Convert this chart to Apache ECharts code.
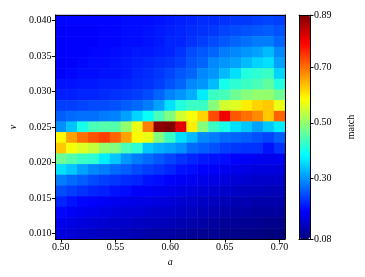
<!DOCTYPE html>
<html><head><meta charset="utf-8">
<script src="https://cdn.jsdelivr.net/npm/echarts@6/dist/echarts.min.js"></script>
<style>html,body{margin:0;padding:0;background:#fff}#c{width:365px;height:277px}</style>
</head><body><div id="c"></div>
<script>
// a (x) values, columns
const aValues = [0.50,0.51,0.52,0.53,0.54,0.55,0.56,0.57,0.58,0.59,0.60,0.61,0.62,0.63,0.64,0.65,0.66,0.67,0.68,0.69,0.70];
// nu (y) values, rows listed from top (0.040) to bottom (0.010)
const nuValues = [0.0400,0.0385,0.0370,0.0355,0.0340,0.0325,0.0310,0.0295,0.0280,0.0265,0.0250,0.0235,0.0220,0.0205,0.0190,0.0175,0.0160,0.0145,0.0130,0.0115,0.0100];
// match values, one row per nu value (same order as nuValues), one entry per a value
const matchRows = [
 [0.185,0.185,0.185,0.185,0.185,0.185,0.19,0.19,0.19,0.195,0.20,0.205,0.21,0.215,0.215,0.22,0.225,0.225,0.23,0.235,0.23],
 [0.18,0.18,0.18,0.18,0.185,0.185,0.19,0.19,0.195,0.20,0.205,0.21,0.215,0.22,0.225,0.235,0.24,0.245,0.25,0.255,0.245],
 [0.18,0.18,0.18,0.18,0.185,0.185,0.19,0.19,0.195,0.20,0.21,0.21,0.22,0.23,0.24,0.25,0.26,0.27,0.28,0.28,0.26],
 [0.18,0.18,0.18,0.185,0.185,0.19,0.195,0.20,0.20,0.205,0.21,0.22,0.24,0.25,0.26,0.28,0.29,0.30,0.31,0.33,0.29],
 [0.18,0.18,0.185,0.19,0.19,0.195,0.20,0.205,0.21,0.215,0.22,0.23,0.25,0.26,0.29,0.30,0.31,0.33,0.35,0.36,0.31],
 [0.18,0.185,0.19,0.19,0.195,0.195,0.20,0.21,0.215,0.225,0.235,0.25,0.26,0.29,0.30,0.33,0.36,0.41,0.42,0.43,0.35],
 [0.195,0.195,0.20,0.20,0.205,0.205,0.21,0.215,0.22,0.23,0.245,0.26,0.29,0.30,0.33,0.40,0.42,0.43,0.44,0.46,0.41],
 [0.205,0.205,0.21,0.21,0.215,0.22,0.225,0.23,0.24,0.26,0.285,0.30,0.32,0.37,0.43,0.44,0.47,0.49,0.50,0.50,0.47],
 [0.23,0.23,0.235,0.24,0.24,0.245,0.255,0.265,0.28,0.31,0.36,0.41,0.43,0.43,0.49,0.55,0.56,0.60,0.62,0.63,0.57],
 [0.255,0.265,0.27,0.27,0.28,0.285,0.31,0.35,0.39,0.44,0.485,0.55,0.58,0.62,0.73,0.80,0.72,0.70,0.68,0.63,0.71],
 [0.295,0.335,0.40,0.44,0.45,0.45,0.50,0.57,0.69,0.88,0.89,0.81,0.60,0.49,0.43,0.40,0.36,0.34,0.31,0.34,0.37],
 [0.59,0.66,0.70,0.725,0.74,0.71,0.66,0.59,0.57,0.485,0.43,0.36,0.33,0.29,0.28,0.265,0.26,0.255,0.245,0.235,0.255],
 [0.63,0.58,0.56,0.54,0.50,0.485,0.44,0.42,0.34,0.32,0.31,0.295,0.265,0.255,0.245,0.23,0.225,0.22,0.22,0.195,0.22],
 [0.47,0.45,0.43,0.42,0.37,0.34,0.30,0.28,0.265,0.25,0.235,0.22,0.21,0.20,0.195,0.19,0.18,0.175,0.17,0.165,0.17],
 [0.36,0.34,0.31,0.29,0.28,0.265,0.255,0.24,0.23,0.22,0.21,0.195,0.19,0.18,0.175,0.17,0.165,0.16,0.155,0.155,0.155],
 [0.28,0.265,0.255,0.24,0.23,0.225,0.215,0.21,0.195,0.19,0.18,0.175,0.17,0.165,0.16,0.155,0.15,0.145,0.14,0.14,0.14],
 [0.24,0.23,0.22,0.21,0.205,0.195,0.19,0.18,0.175,0.17,0.165,0.16,0.155,0.15,0.145,0.14,0.135,0.13,0.13,0.125,0.125],
 [0.21,0.195,0.185,0.18,0.175,0.17,0.165,0.16,0.16,0.155,0.15,0.145,0.14,0.135,0.13,0.125,0.12,0.12,0.115,0.115,0.115],
 [0.185,0.175,0.17,0.165,0.16,0.155,0.15,0.15,0.145,0.14,0.14,0.135,0.13,0.125,0.12,0.115,0.11,0.11,0.105,0.105,0.105],
 [0.165,0.16,0.155,0.15,0.145,0.14,0.14,0.135,0.13,0.13,0.125,0.12,0.115,0.11,0.105,0.10,0.10,0.095,0.095,0.09,0.09],
 [0.155,0.15,0.14,0.135,0.13,0.13,0.125,0.12,0.115,0.11,0.11,0.105,0.10,0.095,0.095,0.09,0.09,0.085,0.085,0.08,0.08]
];
const xTickLabels = [0.50,0.55,0.60,0.65,0.70];
const yTickLabels = [0.010,0.015,0.020,0.025,0.030,0.035,0.040];
const cbarTickLabels = [0.08,0.30,0.50,0.70,0.89];
const matchMin = 0.08, matchMax = 0.89;

const jet = ['#00007f','#0000ff','#0080ff','#00ffff','#80ff80','#ffff00','#ff8000','#ff0000','#7f0000'];
const FONT = 'Liberation Serif';

const aStep = aValues[1]-aValues[0];
const nuStep = nuValues[0]-nuValues[1];
const xMin = aValues[0]-aStep/2, xMax = aValues[aValues.length-1]+aStep/2;
const yMin = nuValues[nuValues.length-1]-nuStep/2, yMax = nuValues[0]+nuStep/2;

const data = [];
matchRows.forEach((row, yi) => row.forEach((v, xi) => data.push([xi, yi, v])));

const line = {color:'#000', width:1};
const lbl = {color:'#000', fontFamily:FONT, fontSize:10};
const frameAxis = (extra) => Object.assign({
  type:'value', z:6, axisLine:{show:true, onZero:false, lineStyle:line},
  axisTick:{show:false}, axisLabel:{show:false}, splitLine:{show:false}
}, extra);

const chart = echarts.init(document.getElementById('c'), null, {renderer:'canvas'});
chart.setOption({
  animation:false,
  backgroundColor:'#fff',
  grid:[
    {left:51, top:15, width:234, height:224, containLabel:false},
    {left:299, top:15, width:11, height:224, containLabel:false}
  ],
  xAxis:[
    {type:'category', data:aValues, gridIndex:0, show:false},
    frameAxis({gridIndex:0, min:xMin, max:xMax, position:'bottom',
      axisTick:{show:true, length:3.5, customValues:xTickLabels, lineStyle:line},
      axisLabel:Object.assign({show:true, margin:3, customValues:xTickLabels, formatter:v=>v.toFixed(2)}, lbl),
      name:'a', nameLocation:'middle', nameGap:17,
      nameTextStyle:Object.assign({fontStyle:'italic'}, lbl)}),
    frameAxis({gridIndex:0, min:xMin, max:xMax, position:'top'}),
    frameAxis({gridIndex:1, min:0, max:1, position:'bottom'}),
    frameAxis({gridIndex:1, min:0, max:1, position:'top'})
  ],
  yAxis:[
    {type:'category', data:nuValues, inverse:true, gridIndex:0, show:false},
    frameAxis({gridIndex:0, min:yMin, max:yMax, position:'left',
      axisTick:{show:true, length:3.5, customValues:yTickLabels, lineStyle:line},
      axisLabel:Object.assign({show:true, margin:4, customValues:yTickLabels, formatter:v=>v.toFixed(3)}, lbl),
      name:'ν', nameLocation:'middle', nameRotate:90, nameGap:29,
      nameTextStyle:Object.assign({fontStyle:'italic'}, lbl)}),
    frameAxis({gridIndex:0, min:yMin, max:yMax, position:'right'}),
    frameAxis({gridIndex:1, min:matchMin, max:matchMax, position:'left'}),
    frameAxis({gridIndex:1, min:matchMin, max:matchMax, position:'right',
      axisTick:{show:true, length:3.5, customValues:cbarTickLabels, lineStyle:line},
      axisLabel:Object.assign({show:true, margin:4, customValues:cbarTickLabels, formatter:v=>v.toFixed(2)}, lbl),
      name:'match', nameLocation:'middle', nameRotate:90, nameGap:36,
      nameTextStyle:lbl})
  ],
  visualMap:{
    type:'continuous', min:matchMin, max:matchMax, seriesIndex:0,
    calculable:false, realtime:false, hoverLink:false,
    inRange:{color:jet}, orient:'vertical',
    left:299, top:15, itemWidth:11, itemHeight:224, padding:0,
    text:null, showLabel:false
  },
  series:[{
    type:'heatmap', xAxisIndex:0, yAxisIndex:0, data:data, z:1,
    emphasis:{disabled:true}, progressive:0
  }]
});
</script></body></html>
